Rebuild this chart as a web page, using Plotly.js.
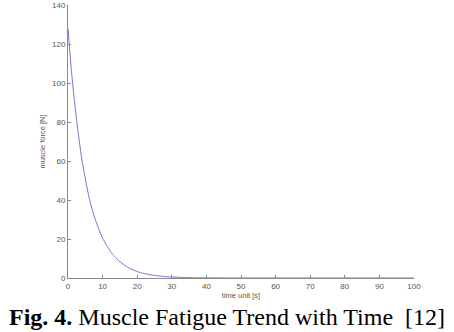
<!DOCTYPE html>
<html>
<head>
<meta charset="utf-8">
<script src="https://cdn.plot.ly/plotly-3.0.1.min.js"></script>
<style>
  html, body { margin: 0; padding: 0; background: #fff; }
  #chart { width: 454px; height: 332px; }
</style>
</head>
<body>
<div id="chart"></div>
<script>
// values
const time = [0, 1, 2, 3, 4, 5, 6, 7, 8, 9, 10, 11, 12, 13, 14, 15, 16, 17, 18, 19, 20,
  22, 24, 26, 28, 30, 33, 36, 40, 45, 50, 60, 70, 80, 90, 100]
const force = [128, 106, 88.5, 73.5, 61, 51, 42, 35, 29.5, 24.5, 20.5, 17.2, 14.4, 12, 10, 8.4, 7, 5.8, 4.8, 4, 3.3,
  2.3, 1.6, 1.1, 0.75, 0.5, 0.3, 0.15, 0.08, 0.03, 0.01, 0, 0, 0, 0, 0]
const xTicks = [0, 10, 20, 30, 40, 50, 60, 70, 80, 90, 100]
const yTicks = [0, 20, 40, 60, 80, 100, 120, 140]

const tickFont = {family: 'Liberation Sans, Arial, sans-serif', size: 8, color: '#555'}

const axisStyle = {
  showgrid: false,
  zeroline: false,
  showline: true,
  linecolor: '#8a8a8a',
  linewidth: 1,
  ticks: 'inside',
  ticklen: 3,
  tickcolor: '#8a8a8a',
  tickfont: tickFont,
  fixedrange: true
}

const trace = {
  x: time,
  y: force,
  mode: 'lines',
  line: {color: '#7474d6', width: 1, shape: 'spline', smoothing: 0.6},
  hoverinfo: 'skip'
}

const layout = {
  width: 454,
  height: 332,
  margin: {l: 68, r: 40, t: 5, b: 54},
  paper_bgcolor: '#fff',
  plot_bgcolor: '#fff',
  showlegend: false,
  xaxis: {
    ...axisStyle,
    range: [0, 100],
    tickvals: xTicks,
    ticklabelstandoff: 0,
    title: {text: 'time unit [s]', font: {...tickFont, size: 7.5}, standoff: 0}
  },
  yaxis: {
    ...axisStyle,
    range: [0, 140],
    tickvals: yTicks,
    title: {text: 'muscle force [N]', font: {...tickFont, size: 7.5}, standoff: 5}
  },
  annotations: [{
    xref: 'paper',
    yref: 'paper',
    x: 0.5,
    y: 0,
    xshift: -14,
    yshift: -54,
    xanchor: 'center',
    yanchor: 'bottom',
    showarrow: false,
    text: '<b>Fig. 4.</b> Muscle Fatigue Trend with Time\u00a0\u00a0[12]',
    font: {family: 'Liberation Serif', size: 24, color: '#000'}
  }]
}

Plotly.newPlot('chart', [trace], layout, {displayModeBar: false, staticPlot: true})
</script>
</body>
</html>
